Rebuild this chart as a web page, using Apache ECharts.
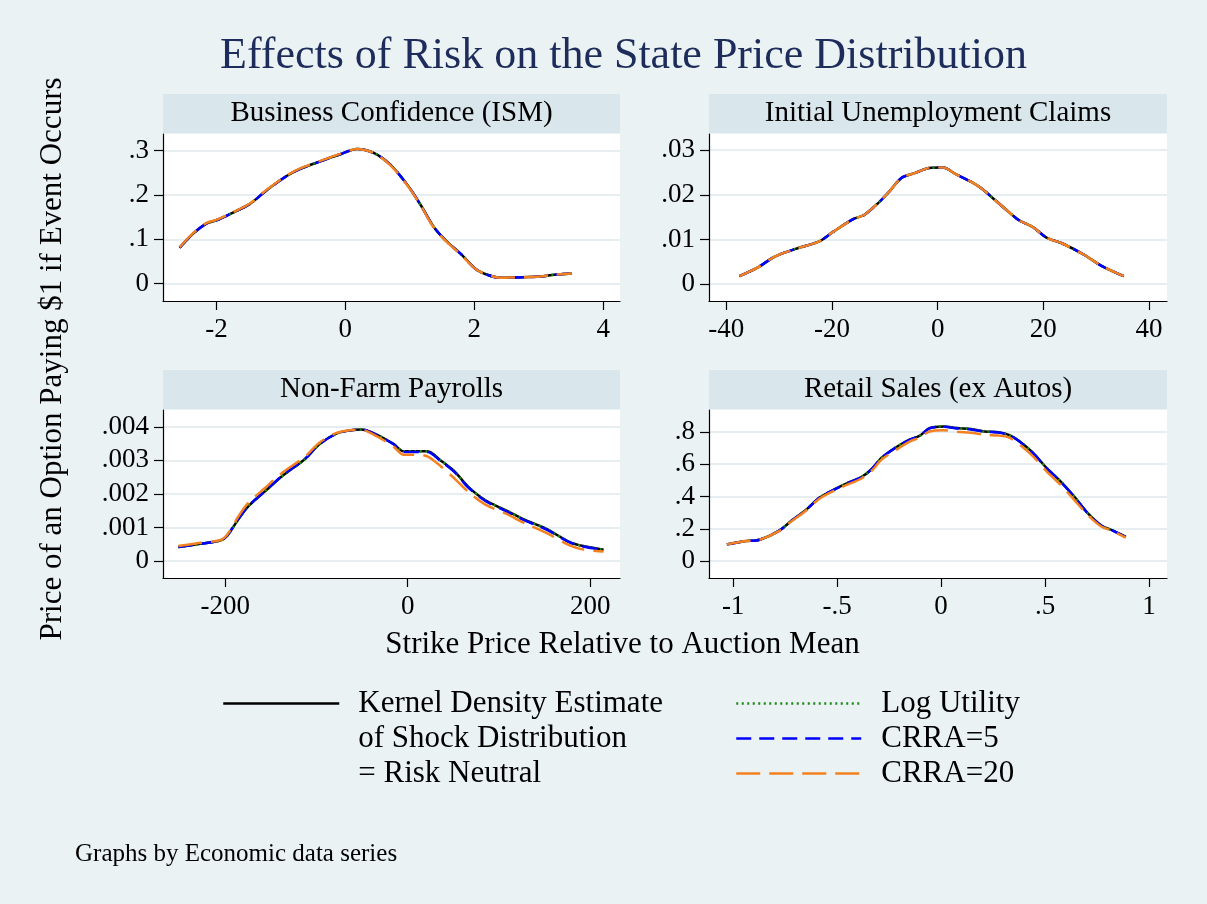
<!DOCTYPE html>
<html><head><meta charset="utf-8">
<script src="https://cdn.jsdelivr.net/npm/echarts@6/dist/echarts.min.js"></script>
<style>html,body{margin:0;padding:0;background:#eaf2f3}#c{width:1207px;height:904px}</style>
</head><body><div id="c"></div>
<script>
// ---------- DATA ----------
const panelTitles = ['Business Confidence (ISM)', 'Initial Unemployment Claims', 'Non-Farm Payrolls', 'Retail Sales (ex Autos)'];
const seriesNames = ['Kernel Density Estimate\nof Shock Distribution\n= Risk Neutral', 'Log Utility', 'CRRA=5', 'CRRA=20'];

// Business Confidence (ISM)
const bcX = [-2.57,-2.36,-2.15,-2.0,-1.79,-1.48,-1.22,-0.91,-0.70,-0.39,-0.08,0.18,0.44,0.70,0.96,1.17,1.37,1.58,1.79,2.02,2.20,2.41,2.62,3.03,3.24,3.51];
const bcKernel = [0.081,0.113,0.136,0.143,0.157,0.180,0.211,0.243,0.259,0.276,0.292,0.304,0.295,0.268,0.223,0.177,0.128,0.094,0.067,0.033,0.020,0.013,0.014,0.016,0.020,0.023];
const bcLog    = [0.081,0.113,0.136,0.143,0.157,0.180,0.211,0.243,0.259,0.276,0.292,0.304,0.295,0.268,0.223,0.177,0.128,0.094,0.067,0.033,0.020,0.013,0.014,0.016,0.020,0.023];
const bcCrra5  = [0.081,0.113,0.136,0.143,0.157,0.180,0.211,0.243,0.259,0.276,0.292,0.304,0.295,0.268,0.223,0.177,0.128,0.094,0.067,0.033,0.020,0.013,0.014,0.016,0.020,0.023];
const bcCrra20 = [0.082,0.114,0.137,0.144,0.158,0.181,0.212,0.244,0.260,0.277,0.293,0.304,0.295,0.267,0.222,0.176,0.127,0.093,0.066,0.033,0.020,0.013,0.014,0.016,0.020,0.023];
const bcXTicks = [-2, 0, 2, 4];
const bcYTicks = [0, 0.1, 0.2, 0.3];

// Initial Unemployment Claims
const ucX = [-37.5,-34.1,-30.8,-26.9,-22.4,-19.8,-15.9,-13.9,-11.3,-9.4,-6.8,-4.2,-1.6,1.0,3.6,6.2,8.2,10.8,13.4,15.4,18.0,20.5,23.8,27.7,31.0,35.2];
const ucKernel = [0.0018,0.0037,0.0062,0.0079,0.0096,0.0117,0.0146,0.0155,0.0181,0.0204,0.0238,0.0249,0.0260,0.0261,0.0245,0.0230,0.0215,0.0189,0.0162,0.0143,0.0128,0.0105,0.0090,0.0066,0.0041,0.0018];
const ucLog    = [0.0018,0.0037,0.0062,0.0079,0.0096,0.0117,0.0146,0.0155,0.0181,0.0204,0.0238,0.0249,0.0260,0.0261,0.0245,0.0230,0.0215,0.0189,0.0162,0.0143,0.0128,0.0105,0.0090,0.0066,0.0041,0.0018];
const ucCrra5  = [0.0018,0.0037,0.0062,0.0079,0.0096,0.0117,0.0146,0.0155,0.0181,0.0204,0.0238,0.0249,0.0260,0.0261,0.0245,0.0230,0.0215,0.0189,0.0162,0.0143,0.0128,0.0105,0.0090,0.0066,0.0041,0.0018];
const ucCrra20 = [0.0018,0.0037,0.0062,0.0079,0.0096,0.0117,0.0146,0.0155,0.0181,0.0204,0.0238,0.0249,0.0260,0.0261,0.0245,0.0230,0.0215,0.0189,0.0162,0.0143,0.0128,0.0105,0.0090,0.0066,0.0041,0.0018];
const ucXTicks = [-40, -20, 0, 20, 40];
const ucYTicks = [0, 0.01, 0.02, 0.03];

// Non-Farm Payrolls
const nfX = [-251.5,-227,-205,-197.6,-186.4,-175.3,-156.8,-138.2,-112.2,-97.3,-78.8,-63.8,-50.9,-34.2,-15.6,-4.5,6.7,21.5,36.4,51.3,66.1,84.7,107,129.2,151.5,177.5,192.4,214.7];
const nfKernel = [0.00042,0.00052,0.00062,0.00077,0.00122,0.00162,0.00207,0.00252,0.00305,0.00347,0.00379,0.00389,0.00392,0.00377,0.00349,0.00327,0.00327,0.00327,0.00299,0.00267,0.00222,0.00182,0.00152,0.00122,0.00097,0.00057,0.00045,0.00034];
const nfLog    = [0.00042,0.00052,0.00062,0.00077,0.00122,0.00162,0.00207,0.00252,0.00305,0.00347,0.00379,0.00389,0.00392,0.00377,0.00349,0.00327,0.00327,0.00327,0.00299,0.00267,0.00222,0.00182,0.00152,0.00122,0.00097,0.00057,0.00045,0.00034];
const nfCrra5  = [0.00042,0.00052,0.00062,0.00078,0.00123,0.00163,0.00208,0.00253,0.00306,0.00347,0.00379,0.00389,0.00392,0.00376,0.00348,0.00325,0.00325,0.00325,0.00297,0.00265,0.00220,0.00180,0.00150,0.00120,0.00095,0.00056,0.00044,0.00033];
const nfCrra20 = [0.00045,0.00055,0.00063,0.00080,0.00130,0.00172,0.00217,0.00262,0.00312,0.00352,0.00381,0.00390,0.00391,0.00372,0.00341,0.00317,0.00317,0.00312,0.00282,0.00246,0.00207,0.00169,0.00142,0.00112,0.00085,0.00047,0.00035,0.00029];
const nfXTicks = [-200, 0, 200];
const nfYTicks = [0, 0.001, 0.002, 0.003, 0.004];

// Retail Sales (ex Autos)
const rsX = [-1.030,-0.947,-0.873,-0.782,-0.716,-0.650,-0.584,-0.501,-0.451,-0.385,-0.336,-0.286,-0.220,-0.154,-0.104,-0.055,0.011,0.078,0.144,0.210,0.276,0.326,0.375,0.441,0.507,0.574,0.640,0.706,0.772,0.822,0.888];
const rsKernel = [0.104,0.123,0.133,0.186,0.254,0.317,0.394,0.452,0.483,0.519,0.567,0.640,0.702,0.750,0.775,0.823,0.833,0.823,0.817,0.802,0.798,0.781,0.744,0.671,0.577,0.494,0.400,0.296,0.219,0.192,0.150];
const rsLog    = [0.104,0.123,0.133,0.186,0.254,0.317,0.394,0.452,0.483,0.519,0.567,0.640,0.702,0.750,0.775,0.823,0.833,0.823,0.817,0.802,0.798,0.781,0.744,0.671,0.577,0.494,0.400,0.296,0.219,0.192,0.150];
const rsCrra5  = [0.104,0.123,0.133,0.186,0.253,0.316,0.393,0.451,0.482,0.518,0.566,0.639,0.701,0.749,0.774,0.822,0.831,0.821,0.815,0.800,0.796,0.779,0.742,0.669,0.575,0.492,0.398,0.294,0.218,0.191,0.149];
const rsCrra20 = [0.104,0.123,0.133,0.184,0.250,0.312,0.388,0.445,0.473,0.510,0.556,0.629,0.685,0.738,0.765,0.802,0.810,0.800,0.794,0.781,0.777,0.765,0.723,0.650,0.556,0.473,0.379,0.285,0.213,0.188,0.146];
const rsXTicks = [-1, -0.5, 0, 0.5, 1];
const rsYTicks = [0, 0.2, 0.4, 0.6, 0.8];

// ---------- LAYOUT / STYLE ----------
const FONT = '"Liberation Serif", "Times New Roman", serif';
const panelData = [
  {x: bcX, ys: [bcKernel, bcLog, bcCrra5, bcCrra20], xt: bcXTicks, yt: bcYTicks, xr: [-2.828, 4.259], yr: [-0.0393, 0.3378]},
  {x: ucX, ys: [ucKernel, ucLog, ucCrra5, ucCrra20], xt: ucXTicks, yt: ucYTicks, xr: [-43.26, 43.39], yr: [-0.00375, 0.0336]},
  {x: nfX, ys: [nfKernel, nfLog, nfCrra5, nfCrra20], xt: nfXTicks, yt: nfYTicks, xr: [-268.3, 232.7], yr: [-0.0005, 0.0045]},
  {x: rsX, ys: [rsKernel, rsLog, rsCrra5, rsCrra20], xt: rsXTicks, yt: rsYTicks, xr: [-1.116, 1.086], yr: [-0.104, 0.935]}
];
const boxes = [
  {left: 163, top: 134, width: 457, height: 167},
  {left: 709, top: 134, width: 458, height: 167},
  {left: 163, top: 410, width: 457, height: 168},
  {left: 709, top: 410, width: 458, height: 168}
];
const lineStyles = [
  {color: '#000000', type: 'solid'},
  {color: '#1a8a1a', type: [2, 3.5]},
  {color: '#0000ff', type: [15, 8]},
  {color: '#f48120', type: [24, 9]}
];
const fmt = v => String(v).replace(/^(-?)0\./, '$1.');

const grids = [], xAxes = [], yAxes = [], series = [], graphics = [];
boxes.forEach((b, i) => {
  const p = panelData[i];
  grids.push({left: b.left, top: b.top, width: b.width, height: b.height, show: true,
    backgroundColor: '#ffffff', borderWidth: 0, containLabel: false, outerBoundsMode: 'none'});
  xAxes.push({type: 'value', gridIndex: i, min: p.xr[0], max: p.xr[1],
    axisLine: {show: true, onZero: false, lineStyle: {color: '#000', width: 1.2}},
    axisTick: {show: true, length: 9, customValues: p.xt, lineStyle: {color: '#000', width: 1.2}},
    axisLabel: {customValues: p.xt, formatter: fmt, fontFamily: FONT, fontSize: 27, color: '#000', margin: 15},
    splitLine: {show: false}});
  yAxes.push({type: 'value', gridIndex: i, min: p.yr[0], max: p.yr[1],
    axisLine: {show: true, onZero: false, lineStyle: {color: '#000', width: 1.2}},
    axisTick: {show: true, length: 9, customValues: p.yt, lineStyle: {color: '#000', width: 1.2}},
    axisLabel: {customValues: p.yt, formatter: fmt, fontFamily: FONT, fontSize: 27, color: '#000', margin: 14},
    splitLine: {show: true, lineStyle: {color: '#e6eef1', width: 2}}});
  p.ys.forEach((ys, k) => {
    series.push({type: 'line', name: seriesNames[k], xAxisIndex: i, yAxisIndex: i,
      data: p.x.map((x, j) => [x, ys[j]]), smooth: 0.3, symbol: 'none', showSymbol: false, silent: true,
      z: 2 + k, itemStyle: {color: lineStyles[k].color},
      lineStyle: {color: lineStyles[k].color, width: 2.5, type: lineStyles[k].type}});
  });
  graphics.push({type: 'rect', shape: {x: b.left, y: b.top - 40, width: b.width, height: 39},
    style: {fill: '#d9e6eb'}, silent: true});
  graphics.push({type: 'text', x: b.left + b.width / 2, y: b.top - 20.5,
    style: {text: panelTitles[i], x: 0, y: 0, align: 'center', verticalAlign: 'middle', textAlign: 'center', textVerticalAlign: 'middle',
      fontFamily: FONT, fontSize: 29, fill: '#000'}, silent: true});
});

graphics.push({type: 'text', x: 623.5, y: 56.5,
  style: {text: 'Effects of Risk on the State Price Distribution', x: 0, y: 0, align: 'center', verticalAlign: 'middle',
    textAlign: 'center', textVerticalAlign: 'middle', fontFamily: FONT, fontSize: 44, fill: '#1d2c5a'}, silent: true});
graphics.push({type: 'text', x: 622.5, y: 645,
  style: {text: 'Strike Price Relative to Auction Mean', x: 0, y: 0, align: 'center', verticalAlign: 'middle',
    textAlign: 'center', textVerticalAlign: 'middle', fontFamily: FONT, fontSize: 31, fill: '#000'}, silent: true});
graphics.push({type: 'text', x: 52.5, y: 359, rotation: Math.PI / 2,
  style: {text: 'Price of an Option Paying $1 if Event Occurs', x: 0, y: 0, align: 'center', verticalAlign: 'middle',
    textAlign: 'center', textVerticalAlign: 'middle', fontFamily: FONT, fontSize: 31, fill: '#000'}, silent: true});
graphics.push({type: 'text', x: 75, y: 854,
  style: {text: 'Graphs by Economic data series', x: 0, y: 0, align: 'left', verticalAlign: 'middle',
    textAlign: 'left', textVerticalAlign: 'middle', fontFamily: FONT, fontSize: 25, fill: '#000'}, silent: true});

const chart = echarts.init(document.getElementById('c'), null, {renderer: 'canvas'});
chart.setOption({
  backgroundColor: '#eaf2f3',
  animation: false,
  grid: grids, xAxis: xAxes, yAxis: yAxes, series: series,
  legend: [
    {data: [seriesNames[0]], orient: 'vertical', left: 222, top: 616, padding: 0, itemWidth: 116, itemHeight: 14, selectedMode: false,
      formatter: name => '\n\n' + name,
      itemStyle: {opacity: 0, borderWidth: 0},
      lineStyle: {width: 2.5}, textStyle: {fontFamily: FONT, fontSize: 31, color: '#000', lineHeight: 35, padding: [0, 0, 0, 14]}},
    {data: seriesNames.slice(1), orient: 'vertical', left: 735, top: 686, padding: 0, itemWidth: 125, itemHeight: 14, itemGap: 0, selectedMode: false,
      itemStyle: {opacity: 0, borderWidth: 0},
      lineStyle: {width: 2.5}, textStyle: {fontFamily: FONT, fontSize: 31, color: '#000', lineHeight: 35, padding: [0, 0, 0, 15]}}
  ],
  graphic: graphics
});
</script></body></html>
